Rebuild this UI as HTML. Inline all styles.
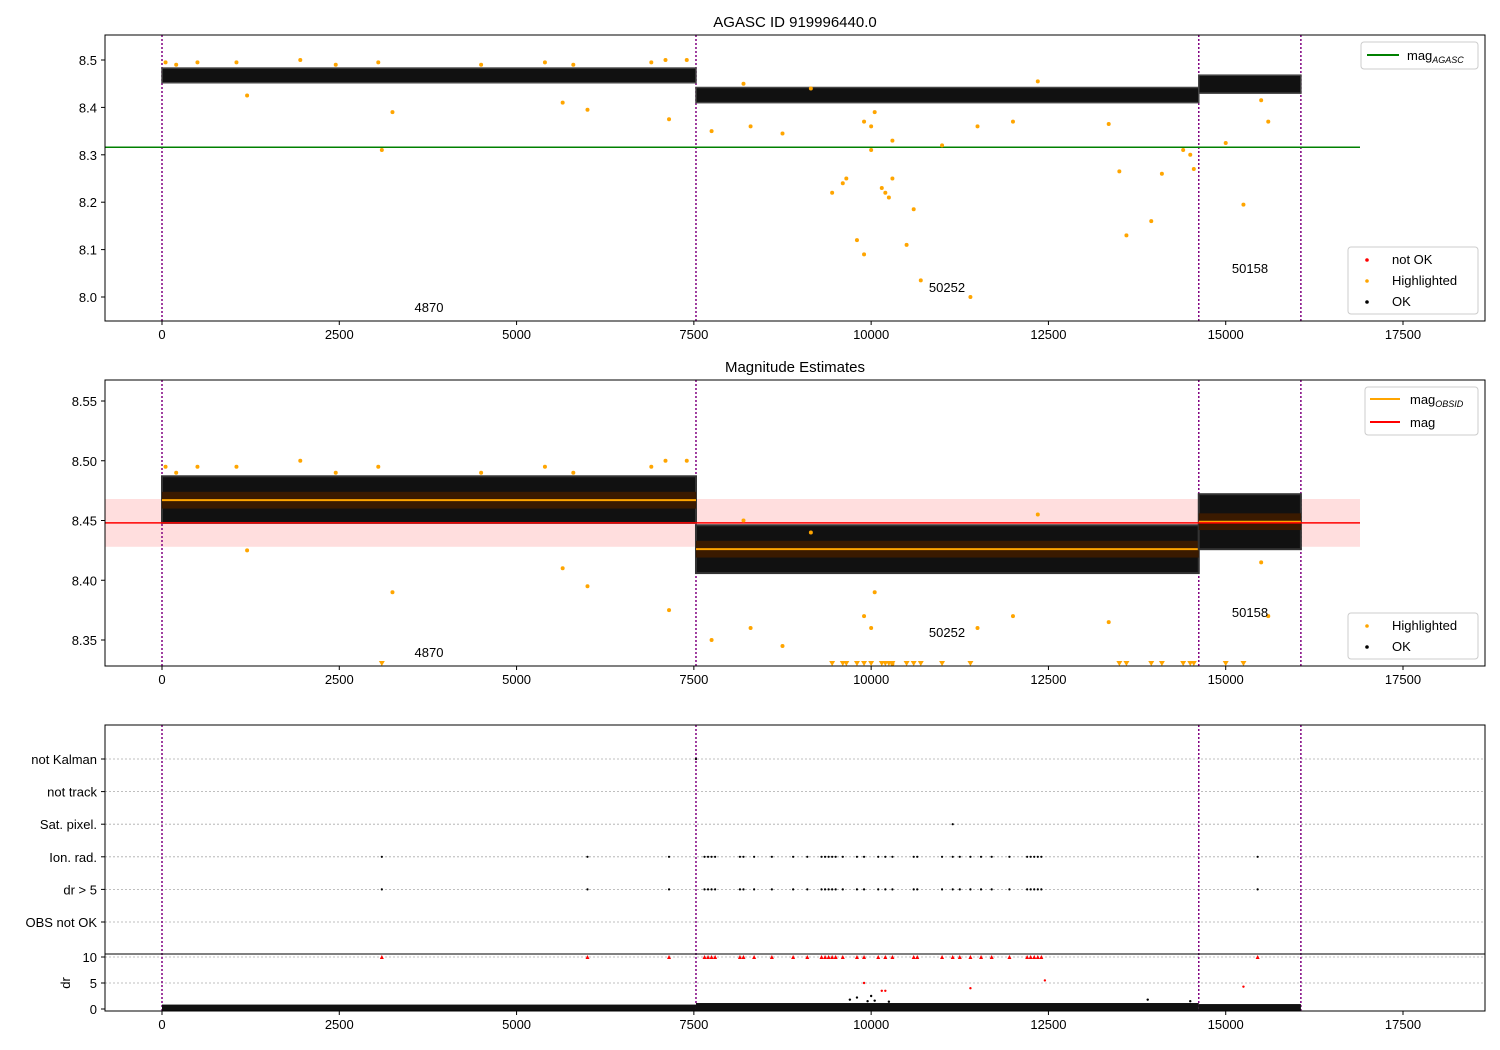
<!DOCTYPE html>
<html><head><meta charset="utf-8"><style>
html,body{margin:0;padding:0;background:#fff;}
svg{display:block;font-family:"Liberation Sans","DejaVu Sans",sans-serif;}
</style></head><body>
<svg id="chart" width="1500" height="1050" viewBox="0 0 1500 1050" xmlns="http://www.w3.org/2000/svg"></svg>
<script>
// ---- data ----
const obsids = ["4870", "50252", "50158"];
const segStart = [0, 7530, 14620];
const segEnd = [7530, 14620, 16060];
const segMean = [8.467, 8.426, 8.449];
const bandLo = [8.452, 8.410, 8.430];
const bandHi = [8.483, 8.442, 8.468];
const obsBoundaries = [0, 7530, 14620, 16060];
const magAgasc = 8.316;
const magMean = 8.448;
const magLo = 8.428;
const magHi = 8.468;
const xTicks = [0, 2500, 5000, 7500, 10000, 12500, 15000, 17500];
const y1Ticks = [8.0, 8.1, 8.2, 8.3, 8.4, 8.5];
const y2Ticks = [8.35, 8.40, 8.45, 8.50, 8.55];
const hlX = [50,200,500,1050,1200,1950,2450,3050,3100,3250,4500,5400,5650,5800,6000,6900,7100,7150,7400,7750,8200,8300,8750,9150,9450,9600,9650,9800,9900,9900,10000,10000,10050,10150,10200,10250,10300,10300,10500,10600,10700,11000,11400,11500,12000,12350,13350,13500,13600,13950,14100,14400,14500,14550,15000,15250,15500,15600];
const hlY = [8.495,8.49,8.495,8.495,8.425,8.5,8.49,8.495,8.31,8.39,8.49,8.495,8.41,8.49,8.395,8.495,8.5,8.375,8.5,8.35,8.45,8.36,8.345,8.44,8.22,8.24,8.25,8.12,8.09,8.37,8.36,8.31,8.39,8.23,8.22,8.21,8.25,8.33,8.11,8.185,8.035,8.32,8.0,8.36,8.37,8.455,8.365,8.265,8.13,8.16,8.26,8.31,8.3,8.27,8.325,8.195,8.415,8.37];
const flagCats = ["OBS not OK", "dr > 5", "Ion. rad.", "Sat. pixel.", "not track", "not Kalman"];
const ionX = [3100,6000,7150,7650,7700,7750,7800,8150,8200,8350,8600,8900,9100,9300,9350,9400,9450,9500,9600,9800,9900,10100,10200,10300,10600,10650,11000,11150,11250,11400,11550,11700,11950,12200,12250,12300,12350,12400,15450];
const satX = [11150];
const kalmanX = [7530];
const drX = [9900,10150,10200,11400,12450,15250];
const drY = [5,3.5,3.5,4,5.5,4.3];
const drMidX = [9700,9800,9950,10000,10050,10250,13900,14500];
const drMidY = [1.8,2.2,1.5,2.5,1.6,1.4,1.8,1.5];
const drSegLevel = [0.25, 0.55, 0.35];

// ---- scales ----
const X = v => 162 + v * (1403 - 162) / 17500;
const Y1 = v => 297 - (v - 8.0) * 474;
const Y2 = v => 640 - (v - 8.35) * 1195;
const YC = i => 922 - i * 32.6;
const YD = v => 1009 - v * 5.2;
const L = 105, R = 1485;

const svg = document.getElementById('chart');
const NS = 'http://www.w3.org/2000/svg';
function mk(tag, attrs, parent) {
  const e = document.createElementNS(NS, tag);
  for (const k in attrs) e.setAttribute(k, attrs[k]);
  (parent || svg).appendChild(e);
  return e;
}
function txt(s, x, y, attrs, parent) {
  const t = mk('text', Object.assign({x: x, y: y, 'font-size': 13, fill: '#000'}, attrs || {}), parent);
  t.textContent = s;
  return t;
}

function clip(id, t, b) {
  const cp = mk('clipPath', {id: id});
  mk('rect', {x: L, y: t, width: R - L, height: b - t}, cp);
}
clip('c1', 35, 321); clip('c2', 380, 666); clip('c3', 725, 1011);

function xAxis(bottom, name) {
  xTicks.forEach(v => {
    mk('line', {x1: X(v), x2: X(v), y1: bottom, y2: bottom + 4, stroke: '#000'});
    const t = txt(String(v), X(v), bottom + 18, {'text-anchor': 'middle'});
    
    
  });
}
function vlines(g, t, b) {
  obsBoundaries.forEach(v => {
    const l = mk('line', {x1: X(v), x2: X(v), y1: t, y2: b, stroke: '#800080', 'stroke-width': 1.5, 'stroke-dasharray': '2,2'}, g);
    
    
  });
}

// ---------- Panel 1 ----------
const g1 = mk('g', {'clip-path': 'url(#c1)'});


vlines(g1, 35, 321);
mk('line', {x1: L, x2: 1360, y1: Y1(magAgasc), y2: Y1(magAgasc), stroke: 'green', 'stroke-width': 1.5}, g1);
segStart.forEach((s, i) => {
  const r = mk('rect', {x: X(s), y: Y1(bandHi[i]), width: X(segEnd[i]) - X(s), height: Y1(bandLo[i]) - Y1(bandHi[i]), fill: '#111', stroke: '#444', 'stroke-width': 1.5}, g1);
  
  
});
hlX.forEach((v, i) => {
  const c = mk('circle', {cx: X(v), cy: Y1(hlY[i]), r: 2, fill: 'orange'}, g1);
  
  
});
txt(obsids[0], 429, 312, {'text-anchor': 'middle'}, g1);
txt(obsids[1], 947, 292, {'text-anchor': 'middle'}, g1);
txt(obsids[2], 1250, 273, {'text-anchor': 'middle'}, g1);
mk('rect', {x: L, y: 35, width: R - L, height: 286, fill: 'none', stroke: '#000'});
y1Ticks.forEach(v => {
  mk('line', {x1: L - 4, x2: L, y1: Y1(v), y2: Y1(v), stroke: '#000'});
  txt(v.toFixed(1), L - 8, Y1(v) + 5, {'text-anchor': 'end'});
});
xAxis(321, 'x1');
const t1 = txt('AGASC ID 919996440.0', 795, 27, {'text-anchor': 'middle', 'font-size': 15});



function legendBox(x, y, w, h, name) {
  const r = mk('rect', {x: x, y: y, width: w, height: h, rx: 3, fill: '#fff', 'fill-opacity': 0.85, stroke: '#ccc'});
  
  
}
legendBox(1361, 42, 117, 27, 'legend-agasc');
mk('line', {x1: 1367, x2: 1399, y1: 55, y2: 55, stroke: 'green', 'stroke-width': 2});
const la = txt('mag', 1407, 60); const las = mk('tspan', {'font-size': 9, 'font-style': 'italic', dy: 3}, la); las.textContent = 'AGASC';
function ptLegend(x, y, items, name) {
  legendBox(x, y, 130, items.length * 21 + 4, name);
  items.forEach((it, i) => {
    mk('circle', {cx: x + 19, cy: y + 13 + i * 21, r: 1.8, fill: it[1]});
    txt(it[0], x + 44, y + 17 + i * 21);
  });
}
ptLegend(1348, 247, [['not OK', 'red'], ['Highlighted', 'orange'], ['OK', '#000']], 'legend-status-1');

// ---------- Panel 2 ----------
const g2 = mk('g', {'clip-path': 'url(#c2)'});


mk('rect', {x: L, y: Y2(magHi), width: 1360 - L, height: Y2(magLo) - Y2(magHi), fill: '#ffdede'}, g2);
vlines(g2, 380, 666);
segStart.forEach((s, i) => {
  const r = mk('rect', {x: X(s), y: Y2(bandHi[i] + 0.004), width: X(segEnd[i]) - X(s), height: Y2(bandLo[i] - 0.004) - Y2(bandHi[i] + 0.004), fill: '#111', stroke: '#333', 'stroke-width': 2}, g2);
  
  
  mk('rect', {x: X(s), y: Y2(segMean[i] + 0.007), width: X(segEnd[i]) - X(s), height: Y2(segMean[i] - 0.007) - Y2(segMean[i] + 0.007), fill: '#3a1a00'}, g2);
  mk('line', {x1: X(s), x2: X(segEnd[i]), y1: Y2(segMean[i]), y2: Y2(segMean[i]), stroke: 'orange', 'stroke-width': 2}, g2);
});
mk('line', {x1: L, x2: 1360, y1: Y2(magMean), y2: Y2(magMean), stroke: 'red', 'stroke-width': 1.5}, g2);
hlX.forEach((v, i) => {
  if (hlY[i] < 8.3282) {
    const p = mk('path', {d: `M${X(v) - 3},${661} L${X(v) + 3},${661} L${X(v)},${666} Z`, fill: 'orange'}, g2);
    
    
  } else {
    const c = mk('circle', {cx: X(v), cy: Y2(hlY[i]), r: 2, fill: 'orange'}, g2);
    
    
  }
});
txt(obsids[0], 429, 657, {'text-anchor': 'middle'}, g2);
txt(obsids[1], 947, 637, {'text-anchor': 'middle'}, g2);
txt(obsids[2], 1250, 617, {'text-anchor': 'middle'}, g2);
mk('rect', {x: L, y: 380, width: R - L, height: 286, fill: 'none', stroke: '#000'});
y2Ticks.forEach(v => {
  mk('line', {x1: L - 4, x2: L, y1: Y2(v), y2: Y2(v), stroke: '#000'});
  txt(v.toFixed(2), L - 8, Y2(v) + 5, {'text-anchor': 'end'});
});
xAxis(666, 'x2');
const t2 = txt('Magnitude Estimates', 795, 372, {'text-anchor': 'middle', 'font-size': 15});


legendBox(1365, 387, 113, 48, 'legend-mag');
mk('line', {x1: 1370, x2: 1400, y1: 399, y2: 399, stroke: 'orange', 'stroke-width': 2});
const lo = txt('mag', 1410, 404); const los = mk('tspan', {'font-size': 9, 'font-style': 'italic', dy: 3}, lo); los.textContent = 'OBSID';
mk('line', {x1: 1370, x2: 1400, y1: 422, y2: 422, stroke: 'red', 'stroke-width': 2});
txt('mag', 1410, 427);
ptLegend(1348, 613, [['Highlighted', 'orange'], ['OK', '#000']], 'legend-status-2');

// ---------- Panel 3 ----------
const g3 = mk('g', {'clip-path': 'url(#c3)'});


flagCats.forEach((c, i) => {
  mk('line', {x1: L, x2: R, y1: YC(i), y2: YC(i), stroke: '#aaa', 'stroke-dasharray': '2,2', 'stroke-width': 0.8}, g3);
});
[5, 10].forEach(v => mk('line', {x1: L, x2: R, y1: YD(v), y2: YD(v), stroke: '#aaa', 'stroke-dasharray': '2,2', 'stroke-width': 0.8}, g3));
vlines(g3, 725, 1011);
mk('line', {x1: L, x2: R, y1: 954, y2: 954, stroke: '#000'}, g3);
function flagPts(arr, row) {
  arr.forEach(v => {
    const c = mk('circle', {cx: X(v), cy: YC(row), r: 1.1, fill: '#000'}, g3);
    
    
  });
}
flagPts(ionX, 1); flagPts(ionX, 2); flagPts(satX, 3); flagPts(kalmanX, 5);
ionX.forEach(v => {
  const p = mk('path', {d: `M${X(v) - 2},${959} L${X(v) + 2},${959} L${X(v)},${955} Z`, fill: 'red'}, g3);
  
  
});
segStart.forEach((s, i) => {
  const r = mk('rect', {x: X(s), y: YD(drSegLevel[i] + 0.6), width: X(segEnd[i]) - X(s), height: YD(-0.3) - YD(drSegLevel[i] + 0.6), fill: '#111'}, g3);
  
  
});
drMidX.forEach((v, i) => {
  const c = mk('circle', {cx: X(v), cy: YD(drMidY[i]), r: 1.2, fill: '#000'}, g3);
  
  
});
drX.forEach((v, i) => {
  const c = mk('circle', {cx: X(v), cy: YD(drY[i]), r: 1.2, fill: 'red'}, g3);
  
  
});
mk('rect', {x: L, y: 725, width: R - L, height: 286, fill: 'none', stroke: '#000'});
flagCats.forEach((c, i) => {
  mk('line', {x1: L - 4, x2: L, y1: YC(i), y2: YC(i), stroke: '#000'});
  const t = txt(c, L - 8, YC(i) + 5, {'text-anchor': 'end'});
  
  
});
[0, 5, 10].forEach(v => {
  mk('line', {x1: L - 4, x2: L, y1: YD(v), y2: YD(v), stroke: '#000'});
  txt(String(v), L - 8, YD(v) + 5, {'text-anchor': 'end'});
});
const dl = txt('dr', 70, 983, {'text-anchor': 'middle', transform: 'rotate(-90 70 983)'});


xAxis(1011, 'x3');
</script>
</body></html>
